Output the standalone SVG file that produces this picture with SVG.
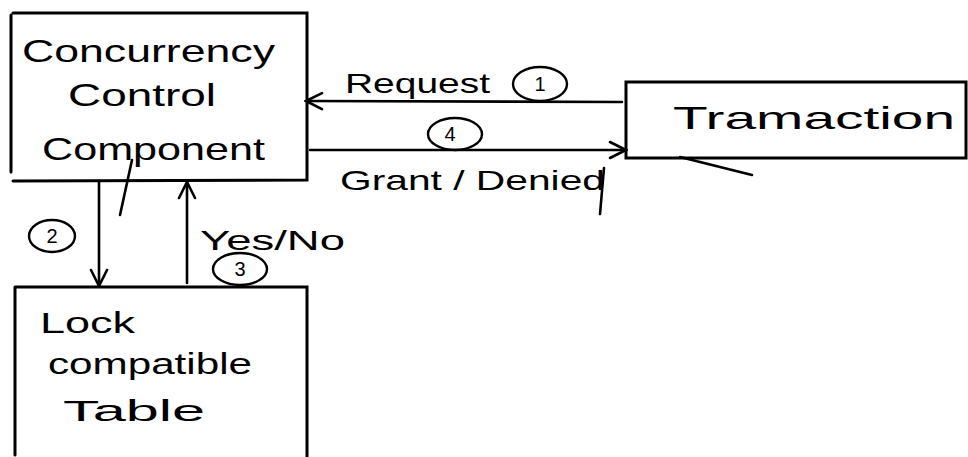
<svg xmlns="http://www.w3.org/2000/svg" width="968" height="457" viewBox="0 0 968 457">
<defs>
<style>
.box{fill:none;stroke:#000;stroke-width:3;stroke-linecap:round}
.ln{fill:none;stroke:#000;stroke-width:2.6;stroke-linecap:round}
.t{font-family:"Liberation Sans",Arial,sans-serif;fill:#000}
.c{fill:none;stroke:#000;stroke-width:2.4}
.n{font-family:"Liberation Sans",Arial,sans-serif;font-size:20px;fill:#000;text-anchor:middle}
</style>
<marker id="ah" viewBox="0 0 20 20" refX="18" refY="10" markerWidth="20" markerHeight="20" markerUnits="userSpaceOnUse" orient="auto">
<path d="M2,2 L18,10 L2,18" fill="none" stroke="#000" stroke-width="2.6" stroke-linecap="round"/>
</marker>
</defs>
<rect width="968" height="457" fill="#fff"/>

<g id="ccc">
<path class="box" d="M13,13 L307,13 L307,180 L13,181 M11,15 L11,172"/>
<text class="t" x="22" y="62" font-size="32" textLength="253" lengthAdjust="spacingAndGlyphs">Concurrency</text>
<text class="t" x="68" y="106" font-size="32" textLength="148" lengthAdjust="spacingAndGlyphs">Control</text>
<text class="t" x="42" y="160" font-size="32" textLength="223" lengthAdjust="spacingAndGlyphs">Component</text>
<path class="ln" d="M132,160 L120,215"/>
</g>

<g id="transaction">
<path class="box" d="M626,82 L963,82 L966,82 L966,158 L626,158 Z"/>
<text class="t" x="673" y="129" font-size="32" textLength="282" lengthAdjust="spacingAndGlyphs">Tramaction</text>
<path class="ln" d="M680,157 L752,175"/>
</g>

<g id="lock">
<path class="box" d="M15,287 L307,287 L307,457 M15,287 L15,455"/>
<text class="t" x="40" y="333" font-size="30" textLength="95" lengthAdjust="spacingAndGlyphs">Lock</text>
<text class="t" x="48" y="374" font-size="30" textLength="204" lengthAdjust="spacingAndGlyphs">compatible</text>
<text class="t" x="63" y="421" font-size="30" textLength="142" lengthAdjust="spacingAndGlyphs">Table</text>
</g>

<g id="connectors">
<line class="ln" x1="622" y1="102" x2="306" y2="101" marker-end="url(#ah)"/>
<line class="ln" x1="310" y1="150" x2="626" y2="150" marker-end="url(#ah)"/>
<line class="ln" x1="99" y1="182" x2="99" y2="286" marker-end="url(#ah)"/>
<line class="ln" x1="187" y1="283" x2="187" y2="182" marker-end="url(#ah)"/>
<text class="t" x="345" y="93" font-size="28" textLength="145" lengthAdjust="spacingAndGlyphs">Request</text>
<ellipse class="c" cx="540" cy="84" rx="27" ry="17"/>
<text class="n" x="540" y="91">1</text>
<ellipse class="c" cx="455" cy="134" rx="27" ry="16"/>
<text class="n" x="450" y="141">4</text>
<text class="t" x="340" y="190" font-size="28" textLength="265" lengthAdjust="spacingAndGlyphs">Grant / Denied</text>
<path class="ln" d="M604,168 L600,214"/>
<ellipse class="c" cx="52" cy="236" rx="23" ry="16"/>
<text class="n" x="52" y="243">2</text>
<text class="t" x="200" y="250" font-size="28" textLength="145" lengthAdjust="spacingAndGlyphs">Yes/No</text>
<ellipse class="c" cx="240" cy="269" rx="27" ry="16"/>
<text class="n" x="240" y="276">3</text>
</g>
</svg>
